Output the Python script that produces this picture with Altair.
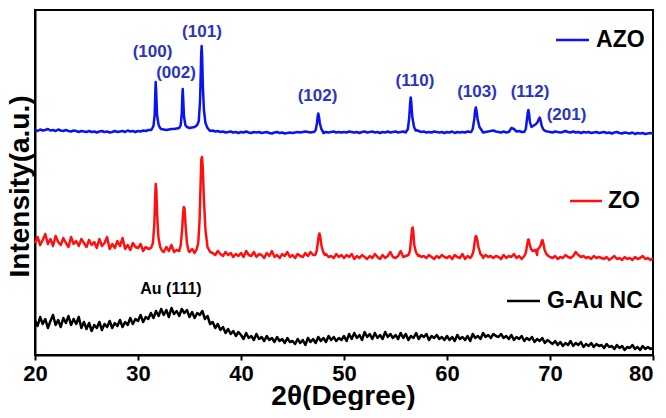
import altair as alt
import pandas as pd

FONT = "Liberation Sans"

# ---------------- data (intensity in arbitrary units) ----------------
grid_x = [20 + 0.25 * i for i in range(241)]

azo_base = (
    [225,224,225.5,224.5,225,226,224.5,225,224,225.5,224.5,224,225,224,223.5,224.5,224,223,224,223.5]
    + [223,224,223,223.5,222.5,223.5,224,223,223.5,222.5,223,224,223,223.5,224,223,224.5,223.5,224,223]
    + [224,223.5,224.5,224,225,225,225.5,226,226.5,226,225.5,225,225.5,226,226,226.5,226,225.5,226,226.5]
    + [227,227.5,228,229,230,229,227,225,224,224.5,223.5,224,223,223.5,222.5,223,223.5,222.5,223,222]
    + [223,222.5,223.5,222.5,222,223,222.5,223,222,222.5,223,222,221.5,222.5,223,222,222.5,221.5,222,222.5]
    + [222,222.5,223,222.5,223,223.5,223,222.5,223,222.5,223,223.5,222,223,222.5,223,223.5,222.5,223,222.5]
    + [223,222.5,223.5,223,222.5,223,222,223,223.5,222.5,223,223.5,222.5,223,222,223,222.5,223.5,222.5,223]
    + [223.5,222.5,223,223.5,222.5,223,223.5,224,225,224,223,223.5,222.5,223,222.5,223.5,223,222.5,223,222]
    + [223,222.5,223.5,222,223,222.5,223,222.5,223.5,223,222.5,223,222,223,222.5,223,223.5,224,224.5,223.5]
    + [223,222.5,223.5,222.5,223,227,226,223.5,224,223,222.5,223,224,225,226,227,228,229,227,223.5]
    + [223,222.5,223.5,223,222.5,223,224,223,222.5,223.5,222.5,223,222,223,222.5,223,222,222.5,223,222]
    + [222.5,223,222,222.5,221.5,222.5,223,222,221.5,222.5,222,221.5,222.5,221,222,221.5,222,221,221.5,222]
    + [221.5]
)
azo_peaks = [
    ([31.35,31.5,31.62,31.68,31.72,31.77,31.85,32.0,32.15], [226,229,240,262,273,262,240,230,227]),
    ([34.0,34.15,34.25,34.3,34.34,34.39,34.47,34.6,34.75], [227,230,242,258,266,256,238,230,228]),
    ([35.75,35.9,36.03,36.1,36.14,36.18,36.23,36.3,36.4,36.55,36.75], [230,234,255,285,302,309,298,268,245,232,227]),
    ([47.1,47.25,47.38,47.45,47.5,47.56,47.65,47.8,47.95], [223,225,232,239,241.5,239,232,226,223.5]),
    ([56.05,56.2,56.33,56.42,56.48,56.54,56.63,56.8,56.95], [223.5,226,237,252,257.5,252,238,228,224.5]),
    ([62.35,62.5,62.65,62.74,62.8,62.87,62.97,63.15,63.35], [223,226,236,245,247.5,244,236,228,225]),
    ([67.5,67.65,67.78,67.85,67.9,67.96,68.05,68.2,68.35], [223,226,237,243,245,242,233,228,229]),
    ([68.5,68.65,68.8,68.92,69.0,69.08,69.2,69.35,69.55], [230,231,233,236,237.5,235,229,225.5,224]),
]

zo_base = (
    [112,118,110,115,121,111,116,109,119,113,110,117,112,108,118,111,114,109,116,112]
    + [108,115,110,113,107,116,109,112,118,106,111,107,114,109,117,106,110,105,112,108]
    + [107,111,104,108,106,107,110,110,110,106,103,108,104,110,103,105,105,110,110,110]
    + [103,106,102,105,110,110,110,110,110,102,100,104,101,99,103,100,102,98,101,99]
    + [102,98,104,100,99,103,98,101,100,97,102,99,104,98,100,97,101,99,103,98]
    + [100,97,101,99,98,102,99,103,100,110,110,110,110,101,98,99,97,101,98,100]
    + [97,100,98,101,96,99,97,100,98,96,99,97,101,98,96,100,97,99,103,98]
    + [97,99,104,98,99,110,110,110,110,100,98,99,97,100,98,96,99,97,100,98]
    + [97,99,96,100,98,97,101,96,99,97,100,98,96,99,97,100,98,99,97,99]
    + [98,96,100,97,99,98,101,97,99,96,100,98,97,99,98,100,99,97,96,98]
    + [98,97,99,96,98,97,100,98,97,99,103,100,98,99,97,98,96,99,97,98]
    + [97,96,98,95,97,99,96,97,95,98,96,97,95,98,96,97,99,96,97,95]
    + [97]
)
zo_peaks = [
    ([31.3,31.45,31.58,31.67,31.72,31.78,31.86,31.98,32.15,32.35], [108,112,130,158,171,165,140,118,108,104]),
    ([34.0,34.15,34.28,34.38,34.45,34.52,34.62,34.75,34.92], [104,110,125,142,148,146,130,112,104]),
    ([35.7,35.85,35.98,36.08,36.15,36.22,36.3,36.4,36.55,36.75,37.0], [106,112,135,172,196,198,185,155,125,108,103]),
    ([47.2,47.35,47.48,47.56,47.62,47.7,47.82,47.98,48.15], [100,104,114,120,121.5,118,109,103,100]),
    ([56.25,56.4,56.52,56.6,56.66,56.72,56.82,56.98,57.2], [100,104,116,126,127.5,124,110,103,99]),
    ([62.4,62.55,62.68,62.76,62.83,62.92,63.05,63.25,63.45], [99,103,112,118,119,116,108,101,99]),
    ([67.5,67.65,67.78,67.87,67.93,68.02,68.15,68.35,68.6], [99,102,110,115,115.5,111,106,104,105]),
    ([68.8,68.95,69.1,69.2,69.27,69.35,69.48,69.65,69.85], [106,107,110,114,115,112,105,101,99]),
]

gau_base = (
    [35,29,38,31,36,27,34,40,30,35,28,37,32,39,30,36,31,38,27,33]
    + [26,32,24,30,27,33,25,31,28,34,27,32,29,35,28,33,30,37,31,36]
    + [34,40,33,38,36,42,37,44,39,46,40,45,38,47,41,44,39,46,42,45]
    + [38,43,37,42,40,44,36,39,31,33,27,31,25,28,22,26,21,24,19,23]
    + [20,16,22,17,19,15,21,16,18,14,19,15,17,13,18,14,16,12,17,13]
    + [14,11,16,12,15,10,17,13,16,12,18,14,17,13,19,15,18,14,17,15]
    + [19,14,21,16,22,17,20,15,23,18,21,16,22,17,20,16,23,18,21,17]
    + [20,16,22,17,21,15,19,17,22,16,20,18,21,15,19,17,20,16,18,15]
    + [19,15,18,14,20,16,18,15,19,14,21,17,19,16,22,18,20,17,21,19]
    + [18,21,17,19,16,20,15,18,16,19,14,17,15,18,13,16,14,17,12,15]
    + [13,11,14,10,13,9,12,10,14,9,12,10,13,8,11,9,12,8,11,9]
    + [10,7,11,8,9,6,10,7,9,5,8,7,10,6,8,5,9,6,8,6]
    + [7]
)
gau_peaks = []

series_names = ["AZO", "ZO", "G-Au NC"]
series_colors = ["#0a14f0", "#ff1010", "#000000"]

# peak labels
peak_labels = ["(100)", "(002)", "(101)", "(102)", "(110)", "(103)", "(112)", "(201)"]
peak_label_x = [31.41, 33.69, 36.21, 47.43, 56.89, 62.91, 68.06, 71.6]
peak_label_y = [303.3, 281.7, 323.3, 259, 274, 263.3, 263.3, 240]

au_label = ["Au (111)"]
au_label_x = [33.2]
au_label_y = [65.7]

# legend entries placed beside each trace
leg_x1 = [70.58, 71.94, 65.83]
leg_x2 = [73.79, 75.05, 69.03]
leg_y = [315, 154, 54]
leg_text_x = [74.47, 75.63, 69.71]


def build(name, base, peaks):
    assert len(base) == len(grid_x), (name, len(base))
    windows = [(min(xs), max(xs)) for xs, _ in peaks]
    pts = [(x, y) for x, y in zip(grid_x, base)
           if not any(lo <= x <= hi for lo, hi in windows)]
    for xs, ys in peaks:
        pts += list(zip(xs, ys))
    pts.sort()
    return pd.DataFrame({"x": [p[0] for p in pts], "y": [p[1] for p in pts], "series": name})


df = pd.concat([
    build("AZO", azo_base, azo_peaks),
    build("ZO", zo_base, zo_peaks),
    build("G-Au NC", gau_base, gau_peaks),
], ignore_index=True)

peaks_df = pd.DataFrame({"x": peak_label_x, "y": peak_label_y, "label": peak_labels})
au_df = pd.DataFrame({"x": au_label_x, "y": au_label_y, "label": au_label})
leg_df = pd.DataFrame({"x": leg_x1, "x2": leg_x2, "y": leg_y, "tx": leg_text_x,
                       "label": series_names, "c": series_colors})

x_axis = alt.Axis(
    values=[20, 30, 40, 50, 60, 70, 80], format="d", grid=False,
    labelFont=FONT, labelFontSize=22, labelFontWeight="bold", labelColor="black",
    labelPadding=3, labelFlush=False,
    labelAlign={"expr": "datum.value == 80 ? 'right' : 'center'"},
    tickSize=5, tickWidth=2, tickColor="black",
    domainColor="black", domainWidth=2,
    title="2θ(Degree)", titleFont=FONT, titleFontSize=28, titleFontWeight="bold",
    titleColor="black", titleX=308, titleY=49, titleBaseline="alphabetic", titleAlign="center",
)
y_axis = alt.Axis(
    labels=False, ticks=False, grid=False, domainColor="black", domainWidth=2,
    title="Intensity(a.u.)", titleFont=FONT, titleFontSize=28, titleFontWeight="bold",
    titleColor="black", titleAngle=270, titleX=-6.5, titleY=176,
    titleBaseline="alphabetic", titleAlign="center",
)

xs = alt.Scale(domain=[20, 80], nice=False, zero=False)
ys = alt.Scale(domain=[0, 345], nice=False, zero=False)

lines = alt.Chart(df).mark_line(strokeWidth=2.5, strokeJoin="round").encode(
    x=alt.X("x:Q", scale=xs, axis=x_axis),
    y=alt.Y("y:Q", scale=ys, axis=y_axis),
    color=alt.Color("series:N", scale=alt.Scale(domain=series_names, range=series_colors), legend=None),
    detail="series:N",
)

peak_text = alt.Chart(peaks_df).mark_text(
    font=FONT, fontSize=17, fontWeight="bold", color="#2a35c0", align="center", baseline="middle"
).encode(x="x:Q", y="y:Q", text="label:N")

au_text = alt.Chart(au_df).mark_text(
    font=FONT, fontSize=16, fontWeight="bold", color="black", align="center", baseline="middle"
).encode(x="x:Q", y="y:Q", text="label:N")

leg_rules = alt.Chart(leg_df).mark_rule(strokeWidth=2.5).encode(
    x="x:Q", x2="x2:Q", y="y:Q", color=alt.Color("c:N", scale=None)
)
leg_text = alt.Chart(leg_df).mark_text(
    font=FONT, fontSize=23, fontWeight="bold", color="black", align="left", baseline="middle"
).encode(x="tx:Q", y="y:Q", text="label:N")

chart = alt.layer(lines, peak_text, au_text, leg_rules, leg_text).properties(
    width=618, height=345,
    padding={"left": 27, "top": 2, "right": 5, "bottom": 55},
    autosize="none",
).configure_view(stroke="black", strokeWidth=2)

chart.save("out.html", embed_options={"renderer": "svg", "actions": False})
